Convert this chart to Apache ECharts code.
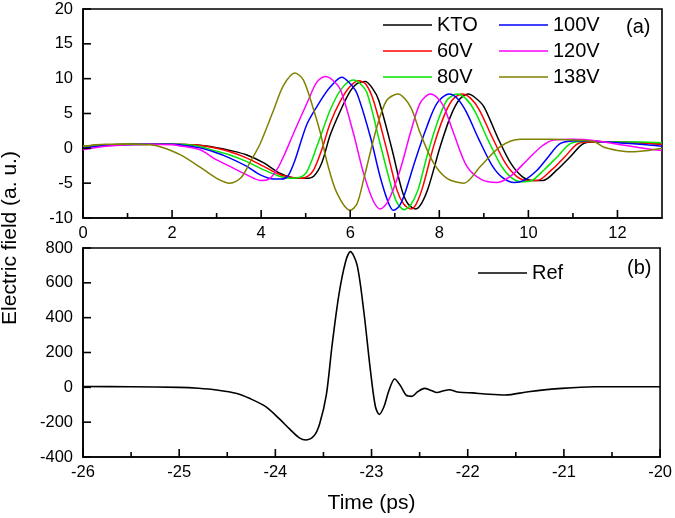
<!DOCTYPE html>
<html>
<head>
<meta charset="utf-8">
<script src="https://cdn.jsdelivr.net/npm/echarts@6/dist/echarts.min.js"></script>
<style>
  html, body { margin: 0; padding: 0; background: #fff; }
</style>
</head>
<body>
<div id="terahertz" style="width: 675px; height: 518px;"></div>
<script>
// time (ps), field (a. u.)
const ktoData = [
  [0, 0.3], [0.5, 0.5], [1, 0.6], [1.5, 0.6], [2, 0.6], [2.5, 0.5], [3, 0.1], [3.3, -0.3],
  [3.68, -0.95], [4.06, -2.1], [4.43, -3.6], [4.8, -4.3], [5.0, -4.3], [5.18, -4.0], [5.36, -2.1],
  [5.55, 1.9], [5.78, 5.4], [6.0, 8.2], [6.15, 9.3], [6.34, 9.6], [6.5, 8.6], [6.64, 6.9],
  [6.94, -0.2], [7.16, -6.0], [7.3, -8.0], [7.47, -8.7], [7.6, -7.9], [7.76, -5.5], [8.02, 0.25],
  [8.25, 4.55], [8.45, 7.0], [8.65, 7.8], [8.8, 7.3], [9.0, 6.0], [9.3, 1.7], [9.6, -2.1],
  [9.86, -4.05], [10.1, -4.6], [10.33, -4.6], [10.64, -3.1], [10.94, -1.2], [11.24, 0.7],
  [11.5, 0.9], [12, 0.9], [12.5, 0.8], [13, 0.6]
]
const v60Data = [
  [0, 0.3], [0.5, 0.5], [1, 0.6], [1.5, 0.6], [2, 0.6], [2.5, 0.5], [3, 0.0], [3.3, -0.5],
  [3.68, -1.4], [4.06, -2.6], [4.43, -3.8], [4.7, -4.2], [4.9, -4.3], [5.05, -4.0], [5.18, -3.1],
  [5.36, -0.2], [5.55, 3.6], [5.78, 6.8], [6.0, 8.9], [6.19, 9.7], [6.35, 9.2], [6.52, 6.9],
  [6.82, -0.2], [7.05, -6.0], [7.2, -8.0], [7.36, -8.7], [7.48, -8.0], [7.63, -5.5], [7.87, 0.25],
  [8.1, 4.55], [8.3, 7.0], [8.51, 7.8], [8.7, 7.2], [8.9, 5.5], [9.18, 1.7], [9.48, -2.1],
  [9.74, -4.05], [9.98, -4.6], [10.2, -4.6], [10.52, -3.1], [10.82, -1.2], [11.12, 0.7],
  [11.4, 0.9], [12, 0.9], [12.5, 0.8], [13, 0.6]
]
const v80Data = [
  [0, 0.3], [0.5, 0.5], [1, 0.6], [1.5, 0.6], [2, 0.6], [2.5, 0.4], [3, -0.4], [3.3, -0.95],
  [3.68, -1.9], [4.06, -3.1], [4.43, -4.05], [4.65, -4.3], [4.85, -4.2], [5.03, -3.3], [5.25, 0.25],
  [5.55, 5.5], [5.8, 8.5], [6.07, 9.8], [6.22, 9.3], [6.38, 7.9], [6.67, 0.7], [6.9, -5.0],
  [7.05, -7.8], [7.21, -8.8], [7.35, -8.2], [7.52, -6.0], [7.72, -1.2], [7.95, 3.6], [8.17, 6.9],
  [8.4, 7.8], [8.6, 7.1], [8.8, 5.3], [9.08, 1.4], [9.38, -2.4], [9.62, -4.2], [9.85, -4.8],
  [10.05, -4.7], [10.35, -3.1], [10.65, -1.2], [10.95, 0.7], [11.3, 1.0], [12, 0.9],
  [12.5, 0.9], [13, 0.8]
]
const v100Data = [
  [0, 0.0], [0.5, 0.4], [1, 0.5], [1.5, 0.6], [2, 0.6], [2.18, 0.5], [2.6, 0.1], [2.93, -0.5],
  [3.3, -1.4], [3.68, -2.6], [3.98, -3.8], [4.28, -4.4], [4.45, -4.4], [4.6, -4.0], [4.76, -1.7],
  [5.03, 3.5], [5.33, 6.8], [5.55, 8.8], [5.81, 10.2], [5.98, 9.4], [6.15, 7.9], [6.45, 1.7],
  [6.67, -4.05], [6.85, -7.7], [6.97, -8.9], [7.1, -8.3], [7.22, -6.6], [7.46, -1.7], [7.72, 3.1],
  [7.95, 6.5], [8.22, 7.8], [8.4, 7.2], [8.6, 5.3], [8.88, 1.4], [9.18, -2.4], [9.42, -4.2],
  [9.68, -4.9], [9.9, -4.6], [10.2, -3.1], [10.45, -1.2], [10.72, 0.7], [11.1, 1.1],
  [11.5, 1.0], [12, 0.8], [12.5, 0.6], [13, 0.3]
]
const v120Data = [
  [0, -0.2], [0.5, 0.3], [1, 0.5], [1.5, 0.6], [2, 0.5], [2.18, 0.34], [2.63, -0.2], [2.93, -1.4],
  [3.3, -2.6], [3.68, -3.8], [3.98, -4.6], [4.15, -4.5], [4.35, -3.1], [4.55, -0.5], [4.73, 2.2],
  [5.03, 6.5], [5.25, 9.5], [5.44, 10.3], [5.6, 9.8], [5.78, 8.4], [6.07, 2.2], [6.3, -3.6],
  [6.52, -7.6], [6.67, -8.7], [6.85, -7.6], [7.12, -3.1], [7.35, 2.2], [7.57, 6.5], [7.8, 7.8],
  [7.95, 7.3], [8.1, 6.0], [8.32, 2.2], [8.62, -2.6], [8.95, -4.5], [9.3, -4.9], [9.6, -4.0],
  [9.97, -1.7], [10.3, 0.3], [10.57, 1.2], [11, 1.3], [11.5, 1.1], [12, 0.6], [12.5, 0.1],
  [13, -0.3]
]
const v138Data = [
  [0, 0.3], [0.5, 0.6], [1, 0.6], [1.5, 0.5], [1.75, 0.2], [2.18, -0.9], [2.63, -2.7], [3.0, -4.3],
  [3.3, -5.0], [3.55, -4.2], [3.75, -2.0], [3.98, 0.7], [4.28, 5.5], [4.5, 9.0], [4.76, 10.8],
  [4.95, 9.8], [5.18, 5.5], [5.33, 2.2], [5.48, -2.0], [5.7, -6.4], [6.0, -8.9], [6.15, -8.0],
  [6.3, -4.5], [6.6, 3.1], [6.82, 6.9], [7.07, 7.8], [7.35, 6.0], [7.57, 2.2], [7.87, -2.1],
  [8.17, -4.3], [8.55, -5.0], [8.92, -2.6], [9.37, 0.25], [9.82, 1.3], [10.5, 1.3], [11, 1.2],
  [11.47, 0.97], [11.7, 0.15], [12.0, -0.3], [12.3, -0.5], [12.7, -0.3], [13, 0.0]
]
// panel (b): reference pulse
const refData = [
  [-26, 5], [-25.5, 3], [-25, 0], [-24.8, -5], [-24.61, -15], [-24.4, -35], [-24.27, -63],
  [-24.1, -111], [-23.96, -180], [-23.85, -240], [-23.75, -290], [-23.68, -302], [-23.6, -280],
  [-23.54, -210], [-23.47, -44], [-23.41, 243], [-23.34, 530], [-23.27, 721], [-23.22, 779],
  [-23.15, 702], [-23.08, 434], [-23.01, 90], [-22.96, -110], [-22.92, -155], [-22.87, -110],
  [-22.82, -20], [-22.76, 48], [-22.7, 10], [-22.64, -45], [-22.58, -52], [-22.52, -25],
  [-22.45, -6], [-22.38, -18], [-22.32, -30], [-22.25, -20], [-22.19, -14], [-22.12, -25],
  [-22.05, -30], [-21.95, -32], [-21.82, -38], [-21.61, -44], [-21.37, -25], [-21.02, -6],
  [-20.68, 3], [-20, 3]
]

// tick values of both panels
const topMajorX = [0, 2, 4, 6, 8, 10, 12]
const topMinorX = [1, 3, 5, 7, 9, 11]
const topMajorY = [-10, -5, 0, 5, 10, 15, 20]
const botMajorX = [-26, -25, -24, -23, -22, -21, -20]
const botMinorX = [-25.5, -24.5, -23.5, -22.5, -21.5, -20.5]
const botMajorY = [-400, -200, 0, 200, 400, 600, 800]

const seriesNames = ['KTO', '60V', '80V', '100V', '120V', '138V']
const seriesData = [ktoData, v60Data, v80Data, v100Data, v120Data, v138Data]
const colorList = ['#000000', '#ff0000', '#00e800', '#0000ff', '#ff00ff', '#808000']

const font = 'Liberation Sans, Arial, sans-serif'

const axisStyle = () => ({
  axisLine: { show: true, onZero: false, lineStyle: { color: '#000', width: 1.6 } },
  axisTick: { show: false },
  axisLabel: { color: '#000', fontSize: 16.5, fontFamily: font, margin: 7 },
  splitLine: { show: false }
})

// inward ticks: [x, y, direction (0 = up from x axis, 1 = right from y axis), length]
const tickItems = (majorX, minorX, majorY, xMin, yMin) => [
  ...majorX.map(v => [v, yMin, 0, 8]),
  ...minorX.map(v => [v, yMin, 0, 5]),
  ...majorY.map(v => [xMin, v, 1, 8])
]

const renderTick = (params, api) => {
  const p = api.coord([api.value(0), api.value(1)])
  const len = api.value(3)
  const end = api.value(2) === 0 ? [p[0], p[1] - len] : [p[0] + len, p[1]]
  return {
    type: 'line',
    shape: { x1: p[0], y1: p[1], x2: end[0], y2: end[1] },
    style: { stroke: '#000', lineWidth: 1.6 }
  }
}

const drawChart = () => {
  const chart = echarts.init(document.getElementById('terahertz'))

  const legendCommon = {
    orient: 'vertical',
    icon: 'rect',
    itemWidth: 49,
    itemHeight: 1.6,
    itemGap: 6,
    padding: 0,
    selectedMode: false,
    textStyle: { color: '#000', fontSize: 20, lineHeight: 20, fontFamily: font }
  }

  const topX = axisStyle()
  topX.axisLabel.showMaxLabel = false
  const leftY1 = axisStyle()
  leftY1.axisLabel.margin = 10
  const leftY2 = axisStyle()
  leftY2.axisLabel.margin = 10

  const option = {
    animation: false,
    backgroundColor: '#fff',
    title: [
      { text: '(a)', left: 626, top: 17, padding: 0,
        textStyle: { fontSize: 20, fontWeight: 'normal', color: '#000', fontFamily: font } },
      { text: '(b)', left: 627, top: 258, padding: 0,
        textStyle: { fontSize: 20, fontWeight: 'normal', color: '#000', fontFamily: font } }
    ],
    legend: [
      { ...legendCommon, data: ['KTO', '60V', '80V'], left: 383, top: 15 },
      { ...legendCommon, data: ['100V', '120V', '138V'], left: 499, top: 15 },
      { ...legendCommon, data: ['Ref'], left: 478, top: 263 }
    ],
    grid: [
      { left: 83, top: 9, width: 579, height: 209, show: true, borderColor: '#000', borderWidth: 1.6 },
      { left: 83, top: 248, width: 579, height: 209, show: true, borderColor: '#000', borderWidth: 1.6 }
    ],
    xAxis: [
      { ...topX, type: 'value', gridIndex: 0, min: 0, max: 13, interval: 2 },
      {
        ...axisStyle(), type: 'value', gridIndex: 1, min: -26, max: -20, interval: 1,
        name: 'Time (ps)', nameLocation: 'middle', nameGap: 36,
        nameTextStyle: { color: '#000', fontSize: 21, fontFamily: font }
      }
    ],
    yAxis: [
      { ...leftY1, type: 'value', gridIndex: 0, min: -10, max: 20, interval: 5 },
      { ...leftY2, type: 'value', gridIndex: 1, min: -400, max: 800, interval: 200 }
    ],
    graphic: [
      {
        type: 'text', x: 10, y: 238, rotation: Math.PI / 2,
        style: { text: 'Electric field (a. u.)', fill: '#000', font: '21px ' + font,
          textAlign: 'center', textVerticalAlign: 'middle' }
      }
    ],
    series: [
      ...seriesNames.map((name, index) => ({
        name,
        type: 'line',
        xAxisIndex: 0,
        yAxisIndex: 0,
        symbol: 'none',
        smooth: 0.3,
        color: colorList[index],
        lineStyle: { width: 1.5, color: colorList[index] },
        data: seriesData[index]
      })),
      {
        name: 'Ref',
        type: 'line',
        xAxisIndex: 1,
        yAxisIndex: 1,
        symbol: 'none',
        smooth: 0.3,
        color: '#000',
        lineStyle: { width: 1.6, color: '#000' },
        data: refData
      },
      {
        type: 'custom',
        xAxisIndex: 0,
        yAxisIndex: 0,
        silent: true,
        clip: false,
        z: 5,
        renderItem: renderTick,
        data: tickItems(topMajorX, topMinorX, topMajorY, 0, -10)
      },
      {
        type: 'custom',
        xAxisIndex: 1,
        yAxisIndex: 1,
        silent: true,
        clip: false,
        z: 5,
        renderItem: renderTick,
        data: tickItems(botMajorX, botMinorX, botMajorY, -26, -400)
      }
    ]
  }

  chart.setOption(option)
}

drawChart()
</script>
</body>
</html>
